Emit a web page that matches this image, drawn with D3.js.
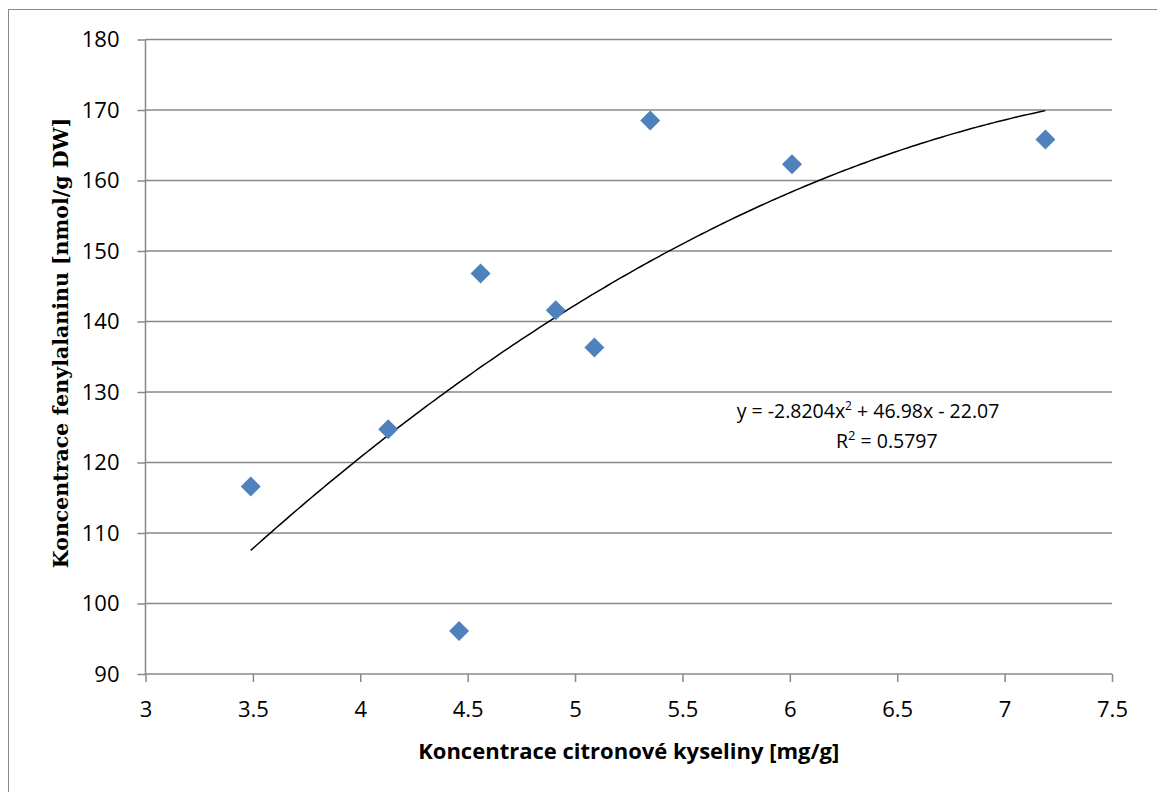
<!DOCTYPE html>
<html>
<head>
<meta charset="utf-8">
<script src="https://cdn.jsdelivr.net/npm/d3@7"></script>
<style>
  body { margin: 0; background: #fff; }
</style>
</head>
<body>
<script>
(function () {
  'use strict';

  const width = 1157,
    height = 792;

  // data
  var xValues = [3.49, 4.13, 4.46, 4.56, 4.91, 5.09, 5.35, 6.01, 7.19];
  var yValues = [116.6, 124.7, 96.1, 146.8, 141.6, 136.3, 168.5, 162.3, 165.8];
  var xTicks = [3, 3.5, 4, 4.5, 5, 5.5, 6, 6.5, 7, 7.5];
  var yTicks = [90, 100, 110, 120, 130, 140, 150, 160, 170, 180];
  var coef = [-2.8204, 46.98, -22.07]; // polynomial trend, order 2
  var rSquared = 0.5797;

  var margin = { left: 145.5, right: width - 1112, top: 39.5, bottom: height - 674 };

  var svg = d3.select('body')
    .append('svg')
    .attr('width', width)
    .attr('height', height);

  // outer chart frame
  svg.append('rect')
    .attr('x', 8.5).attr('y', 9.5)
    .attr('width', width).attr('height', height)
    .style('fill', 'none')
    .style('stroke', '#888')
    .style('stroke-width', 1);

  var x = d3.scaleLinear().domain([3, 7.5]).range([margin.left, width - margin.right]);
  var y = d3.scaleLinear().domain([90, 180]).range([height - margin.bottom, margin.top]);

  var tickFont = '"Open Sans", "Liberation Sans", sans-serif';

  // y ticks
  var yAxis = svg.append('g')
    .attr('transform', 'translate(' + margin.left + ',0)')
    .call(d3.axisLeft(y).tickValues(yTicks).tickSize(8).tickFormat(d3.format('d')));
  yAxis.select('.domain').remove();
  yAxis.selectAll('.tick line').attr('stroke', '#888').attr('stroke-width', 1.5);
  yAxis.selectAll('.tick text')
    .attr('x', -26)
    .style('font-family', tickFont)
    .style('font-size', '22px')
    .style('fill', '#000');

  // horizontal gridlines
  svg.append('g')
    .selectAll('line')
    .data(yTicks.filter(d => d > 90))
    .enter()
    .append('line')
    .attr('x1', margin.left)
    .attr('x2', width - margin.right)
    .attr('y1', d => y(d))
    .attr('y2', d => y(d))
    .style('stroke', '#888')
    .style('stroke-width', 1.5);

  // x axis
  var xAxis = svg.append('g')
    .attr('transform', 'translate(0,' + y(90) + ')')
    .call(d3.axisBottom(x).tickValues(xTicks).tickSize(8).tickFormat(d => String(d)));
  xAxis.select('.domain')
    .attr('d', 'M' + x(3) + ',0H' + x(7.5))
    .attr('stroke', '#888').attr('stroke-width', 1.5);
  xAxis.selectAll('.tick line').attr('stroke', '#888').attr('stroke-width', 1.5);
  xAxis.selectAll('.tick text')
    .attr('y', 43)
    .attr('dy', 0)
    .style('font-family', tickFont)
    .style('font-size', '22px')
    .style('fill', '#000');

  // y axis line
  svg.append('line')
    .attr('x1', x(3)).attr('x2', x(3))
    .attr('y1', y(180)).attr('y2', y(90))
    .style('stroke', '#888')
    .style('stroke-width', 1.5);

  // trend line
  var trendX = d3.range(d3.min(xValues), d3.max(xValues) + 0.001, 0.02);
  var line = d3.line()
    .x(d => x(d))
    .y(d => y(coef[0] * d * d + coef[1] * d + coef[2]));
  svg.append('path')
    .datum(trendX)
    .attr('d', line)
    .style('fill', 'none')
    .style('stroke', '#000')
    .style('stroke-width', 1.5);

  // points
  var pts = xValues.map((d, i) => ({ x: d, y: yValues[i] }));
  svg.selectAll('path.pt')
    .data(pts)
    .enter()
    .append('path')
    .attr('class', 'pt')
    .attr('d', 'M0,-10L10,0L0,10L-10,0Z')
    .attr('transform', d => 'translate(' + x(d.x) + ',' + y(d.y) + ')')
    .style('fill', '#4F81BD');

  // equation label
  var eq = svg.append('text')
    .attr('x', 868)
    .attr('y', 418)
    .attr('text-anchor', 'middle')
    .style('font-family', tickFont)
    .style('font-size', '19.5px')
    .style('fill', '#000');
  eq.append('tspan').text('y = ' + coef[0] + 'x');
  eq.append('tspan').attr('dy', -8).style('font-size', '12px').text('2');
  eq.append('tspan').attr('dy', 8).text(' + ' + coef[1] + 'x - ' + Math.abs(coef[2]));

  var r2 = svg.append('text')
    .attr('x', 836)
    .attr('y', 448)
    .style('font-family', tickFont)
    .style('font-size', '19.5px')
    .style('fill', '#000');
  r2.append('tspan').text('R');
  r2.append('tspan').attr('dy', -8).style('font-size', '13px').text('2');
  r2.append('tspan').attr('dy', 8).text(' = ' + rSquared);

  // axis titles
  svg.append('text')
    .attr('x', (x(3) + x(7.5)) / 2)
    .attr('y', 759)
    .attr('text-anchor', 'middle')
    .style('font-family', tickFont)
    .style('font-weight', 'bold')
    .style('font-size', '22px')
    .style('fill', '#000')
    .text('Koncentrace citronové kyseliny [mg/g]');

  svg.append('text')
    .attr('transform', 'translate(68,343) rotate(-90)')
    .attr('text-anchor', 'middle')
    .style('font-family', '"DejaVu Serif", "Liberation Serif", serif')
    .style('font-weight', 'bold')
    .style('font-size', '20.5px')
    .style('fill', '#000')
    .text('Koncentrace fenylalaninu [nmol/g DW]');
})();
</script>
</body>
</html>
